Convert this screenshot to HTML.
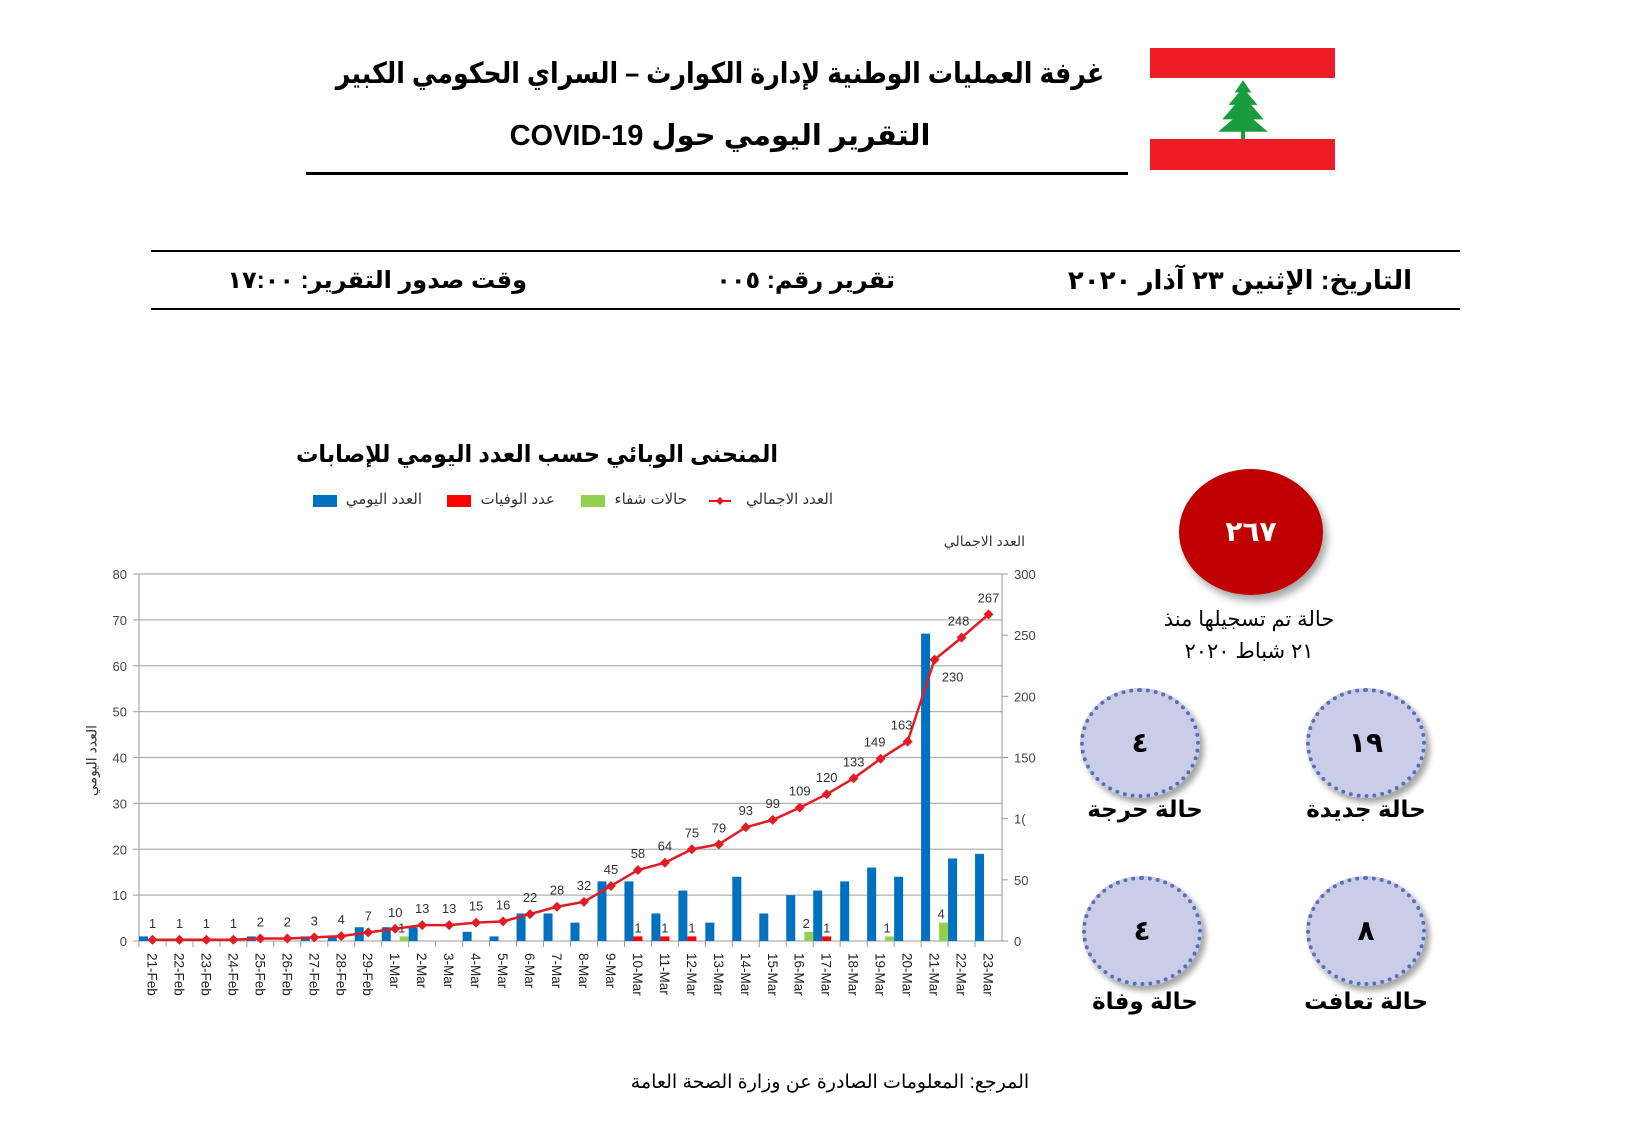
<!DOCTYPE html>
<html><head><meta charset="utf-8">
<style>
body{margin:0;background:#fff;width:1627px;height:1127px;overflow:hidden;position:relative;font-family:"Liberation Sans","DejaVu Sans",sans-serif;}
.t{position:absolute;white-space:nowrap;direction:rtl;color:#000;}
.b{font-weight:bold;}
.ell{position:absolute;border-radius:50%;box-sizing:border-box;}
.sm{background:#c9cde8;border:4px dotted #5b6fb5;box-shadow:4px 5px 6px rgba(0,0,0,0.35);}
.num{position:absolute;left:0;right:0;text-align:center;font-weight:bold;}
</style></head><body>
<!-- header -->
<div class="t b" style="left:220px;top:56px;width:1000px;text-align:center;font-size:29px;transform:scaleX(0.87);">غرفة العمليات الوطنية لإدارة الكوارث – السراي الحكومي الكبير</div>
<div class="t b" style="left:220px;top:118px;width:1000px;text-align:center;font-size:29px;">التقرير اليومي حول COVID-19</div>
<div style="position:absolute;left:306px;top:172px;width:822px;height:3px;background:#000"></div>
<!-- flag -->
<div style="position:absolute;left:1150px;top:48px;width:185px;height:30px;background:#ee1c25"></div>
<div style="position:absolute;left:1150px;top:139px;width:185px;height:31px;background:#ee1c25"></div>
<svg style="position:absolute;left:1210px;top:78px" width="66" height="62" viewBox="0 0 56 60">
<polygon points="28,2 36,14 32,14 42,26 36,26 48,40 38,40 52,52 4,52 18,40 8,40 20,26 14,26 24,14 20,14" fill="#1a9c3e"/>
<rect x="26" y="50" width="4" height="9" fill="#1a9c3e"/>
</svg>
<!-- info lines -->
<div style="position:absolute;left:151px;top:250px;width:1309px;height:2px;background:#000"></div>
<div style="position:absolute;left:151px;top:308px;width:1309px;height:2px;background:#000"></div>
<div class="t b" style="right:215px;top:265px;font-size:26px;">التاريخ: الإثنين ٢٣ آذار ٢٠٢٠</div>
<div class="t b" style="right:732px;top:266px;font-size:24px;">تقرير رقم: ٠٠٥</div>
<div class="t b" style="right:1100px;top:266px;font-size:24px;">وقت صدور التقرير: ١٧:٠٠</div>
<!-- chart title & legend -->
<div class="t b" style="left:237px;top:440px;width:600px;text-align:center;font-size:24px;transform:scaleX(0.93);">المنحنى الوبائي حسب العدد اليومي للإصابات</div>
<svg style="position:absolute;left:0;top:0" width="1627" height="1127" id="ch" font-family="Liberation Sans, DejaVu Sans, sans-serif"></svg>
<div class="t" style="right:794px;top:490px;font-size:15px;color:#333">العدد الاجمالي</div>
<div class="t" style="right:940px;top:490px;font-size:15px;color:#333">حالات شفاء</div>
<div class="t" style="right:1072px;top:490px;font-size:15px;color:#333">عدد الوفيات</div>
<div class="t" style="right:1205px;top:490px;font-size:15px;color:#333">العدد اليومي</div>
<div class="t" style="right:602px;top:533px;font-size:14px;color:#333">العدد الاجمالي</div>
<div class="t" style="left:52px;top:752px;font-size:14px;color:#333;transform:rotate(-90deg);transform-origin:center;width:80px;text-align:center">العدد اليومي</div>
<!-- footer -->
<div class="t" style="left:600px;top:1071px;width:460px;text-align:center;font-size:19px;">المرجع: المعلومات الصادرة عن وزارة الصحة العامة</div>
<!-- right panel -->
<div class="ell" style="left:1179px;top:469px;width:144px;height:126px;background:#c00000;box-shadow:4px 6px 8px rgba(0,0,0,0.35)"><div class="num" style="top:46px;color:#fff;font-size:28px;">٢٦٧</div></div>
<div class="t" style="left:1149px;top:607px;width:200px;text-align:center;font-size:21px;">حالة تم تسجيلها منذ</div>
<div class="t" style="left:1149px;top:639px;width:200px;text-align:center;font-size:21px;">٢١ شباط ٢٠٢٠</div>
<div class="ell sm" style="left:1080px;top:688px;width:120px;height:110px"><div class="num" style="top:34px;font-size:28px;">٤</div></div>
<div class="ell sm" style="left:1306px;top:688px;width:120px;height:110px"><div class="num" style="top:34px;font-size:28px;">١٩</div></div>
<div class="ell sm" style="left:1082px;top:876px;width:120px;height:110px"><div class="num" style="top:34px;font-size:28px;">٤</div></div>
<div class="ell sm" style="left:1306px;top:876px;width:120px;height:110px"><div class="num" style="top:34px;font-size:28px;">٨</div></div>
<div class="t b" style="left:1060px;top:796px;width:170px;text-align:center;font-size:23px;">حالة حرجة</div>
<div class="t b" style="left:1281px;top:796px;width:170px;text-align:center;font-size:23px;">حالة جديدة</div>
<div class="t b" style="left:1060px;top:988px;width:170px;text-align:center;font-size:23px;">حالة وفاة</div>
<div class="t b" style="left:1281px;top:988px;width:170px;text-align:center;font-size:23px;">حالة تعافت</div>
<script>
var s=document.getElementById('ch'),h='';
var x0=139,x1=1002,y0=941,yt=574,cw=(x1-x0)/32;
var L=(y0-yt)/80,R=(y0-yt)/300;
var dates=[];for(var d=21;d<=29;d++)dates.push(d+'-Feb');for(var d=1;d<=23;d++)dates.push(d+'-Mar');
var tot=[1,1,1,1,2,2,3,4,7,10,13,13,15,16,22,28,32,45,58,64,75,79,93,99,109,120,133,149,163,230,248,267];
var day=[1,0,0,0,1,0,1,1,3,3,3,0,2,1,6,6,4,13,13,6,11,4,14,6,10,11,13,16,14,67,18,19];
var red={18:1,19:1,20:1,25:1},grn={9:1,24:2,27:1,29:4};
for(var k=0;k<=8;k++){var y=y0-k*10*L;h+='<line x1="'+(x0-6)+'" x2="'+x1+'" y1="'+y+'" y2="'+y+'" stroke="#b0b0b0" stroke-width="1.3"/>';
h+='<text x="'+(x0-12)+'" y="'+(y+5)+'" font-size="13" fill="#444" text-anchor="end">'+(k*10)+'</text>';}
for(var k=0;k<=6;k++){var y=y0-k*50*R;h+='<line x1="'+x1+'" x2="'+(x1+6)+'" y1="'+y+'" y2="'+y+'" stroke="#999"/>';
h+='<text x="'+(x1+12)+'" y="'+(y+5)+'" font-size="13" fill="#444">'+(k==2?'1(':(k*50))+'</text>';}
h+='<line x1="'+x0+'" x2="'+x0+'" y1="'+yt+'" y2="'+y0+'" stroke="#999"/><line x1="'+x1+'" x2="'+x1+'" y1="'+yt+'" y2="'+y0+'" stroke="#999"/>';
for(var i=0;i<32;i++){var st=x0+i*cw;
h+='<line x1="'+st+'" x2="'+st+'" y1="'+y0+'" y2="'+(y0+6)+'" stroke="#999"/>';
if(day[i])h+='<rect x="'+st+'" y="'+(y0-day[i]*L)+'" width="9" height="'+(day[i]*L)+'" fill="#0070c0"/>';
if(red[i]){h+='<rect x="'+(st+9)+'" y="'+(y0-red[i]*L)+'" width="9" height="'+(red[i]*L)+'" fill="#ff0000"/>';h+='<text x="'+(st+13.5)+'" y="'+(y0-red[i]*L-4)+'" font-size="13" fill="#333" text-anchor="middle">'+red[i]+'</text>';}
if(grn[i]){h+='<rect x="'+(st+18)+'" y="'+(y0-grn[i]*L)+'" width="9" height="'+(grn[i]*L)+'" fill="#92d050"/>';h+='<text x="'+(st+20)+'" y="'+(y0-grn[i]*L-4)+'" font-size="13" fill="#333" text-anchor="middle">'+grn[i]+'</text>';}
var cx=st+cw/2;h+='<text transform="translate('+(cx-5)+','+(y0+12)+') rotate(90)" font-size="13.5" fill="#222">'+dates[i]+'</text>';}
var pts=tot.map(function(v,i){return [x0+(i+.5)*cw,y0-v*R]});
h+='<polyline fill="none" stroke="#e31b23" stroke-width="2.5" points="'+pts.map(function(p){return p.join(',')}).join(' ')+'"/>';
pts.forEach(function(p,i){h+='<polygon points="'+p[0]+','+(p[1]-5)+' '+(p[0]+5)+','+p[1]+' '+p[0]+','+(p[1]+5)+' '+(p[0]-5)+','+p[1]+'" fill="#e31b23"/>';
var lx=p[0],ly=p[1]-12;if(i==29){lx+=18;ly=p[1]+22;}if(i==28)lx-=6;if(i==27)lx-=6;if(i==30)lx-=3;
h+='<text x="'+lx+'" y="'+ly+'" font-size="13" fill="#333" text-anchor="middle">'+tot[i]+'</text>';});
h+='<rect x="313" y="495" width="24" height="12" fill="#0070c0"/><rect x="447" y="495" width="24" height="12" fill="#ff0000"/><rect x="581" y="495" width="24" height="12" fill="#92d050"/>';
h+='<line x1="709" x2="731" y1="501" y2="501" stroke="#e31b23" stroke-width="2"/><polygon points="720,497 724,501 720,505 716,501" fill="#e31b23"/>';
s.innerHTML=h;
</script>
</body></html>
